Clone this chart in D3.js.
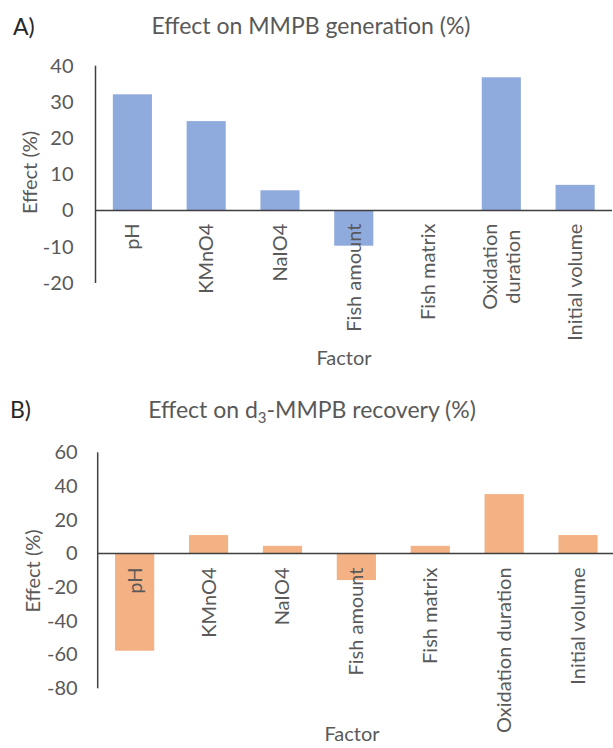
<!DOCTYPE html>
<html><head><meta charset="utf-8">
<script src="https://cdn.jsdelivr.net/npm/d3@7"></script>
<style>html,body{margin:0;padding:0;background:#fff}svg{display:block}</style>
</head><body>
<svg id="c" width="613" height="748"></svg>
<script>
const categories = ["pH","KMnO4","NaIO4","Fish amount","Fish matrix","Oxidation duration","Initial volume"];
const generationValues = [32.1, 24.7, 5.6, -9.7, 0, 36.8, 7.1];
const recoveryValues = [-57.7, 10.9, 4.5, -15.8, 4.5, 35.2, 10.9];
const ticksA = [-20,-10,0,10,20,30,40];
const ticksB = [-80,-60,-40,-20,0,20,40,60];

const FONT = "Lato, 'Open Sans', sans-serif";
const TXT = "#595959";
const svg = d3.select("#c");

function panel(cfg){
  const g = svg.append("g");
  const x = d3.scaleBand().domain(categories).range(cfg.xr).paddingInner(0.47).paddingOuter(0.235);
  const y = d3.scaleLinear().domain(cfg.domain).range(cfg.yr);
  g.append("text").attr("x", cfg.letter[0]).attr("y", cfg.letter[1]).attr("font-family", FONT)
    .attr("font-size", 23).attr("fill", "#262626").text(cfg.letterText);
  const t = g.append("text").attr("x", cfg.title[0]).attr("y", cfg.title[1]).attr("text-anchor","middle")
    .attr("font-family", FONT).attr("font-size", 23).attr("fill", TXT);
  cfg.titleParts.forEach(p => {
    const s = t.append("tspan").text(p.t);
    if (p.sub) s.attr("font-size", 15).attr("dy", 5);
    else if (p.after) s.attr("dy", -5);
  });
  g.selectAll("rect.bar").data(cfg.values).join("rect").attr("class","bar")
    .attr("x", (d,i) => x(categories[i]))
    .attr("width", x.bandwidth())
    .attr("y", d => y(Math.max(0,d)))
    .attr("height", d => Math.abs(y(d) - y(0)))
    .attr("fill", cfg.color);
  const [x0, x1] = cfg.xr;
  g.append("line").attr("x1", x0).attr("x2", x0).attr("y1", y(cfg.domain[1])).attr("y2", y(cfg.domain[0]))
    .attr("stroke", "#3f3f3f").attr("stroke-width", 1.5);
  g.append("line").attr("x1", x0).attr("x2", x1).attr("y1", y(0)).attr("y2", y(0))
    .attr("stroke", "#3f3f3f").attr("stroke-width", 1.5);
  const ax = g.append("g").attr("transform", `translate(${x0 - cfg.tickGap},0)`)
    .call(d3.axisLeft(y).tickValues(cfg.ticks).tickSize(0).tickPadding(0).tickFormat(d => String(d)));
  ax.select(".domain").remove();
  ax.selectAll("text").attr("font-family", FONT).attr("font-size", 20).attr("fill", TXT);
  g.append("text").attr("transform", `translate(${cfg.ytitle[0]},${cfg.ytitle[1]}) rotate(-90)`)
    .attr("text-anchor","middle").attr("dy","0.35em").attr("font-family", FONT).attr("font-size", 20)
    .attr("fill", TXT).text("Effect (%)");
  categories.forEach((c, i) => {
    const cx = x(c) + x.bandwidth()/2;
    const top = y(0) + cfg.labelGap;
    const words = c.split(" ");
    let lines = [c];
    const measure = s => {
      const tt = g.append("text").attr("font-family", FONT).attr("font-size", 20).text(s);
      const w = tt.node().getComputedTextLength(); tt.remove(); return w;
    };
    if (measure(c) > cfg.maxLabel && words.length > 1) lines = words;
    const maxL = d3.max(lines.map(measure));
    const lh = 23;
    lines.forEach((l, k) => {
      const off = (k - (lines.length - 1)/2) * lh;
      g.append("text").attr("transform", `translate(${cx + off},${top + maxL/2}) rotate(-90)`)
        .attr("text-anchor","middle").attr("dy","0.35em").attr("font-family", FONT).attr("font-size", 20)
        .attr("fill", TXT).text(l);
    });
  });
  g.append("text").attr("x", cfg.xtitle[0]).attr("y", cfg.xtitle[1]).attr("text-anchor","middle")
    .attr("font-family", FONT).attr("font-size", 20).attr("fill", TXT).text("Factor");
}

panel({
  values: generationValues, ticks: ticksA, domain: [-20, 40],
  xr: [95.5, 612], yr: [283, 65.7], color: "#8FAADC",
  letter: [13, 35], letterText: "A)",
  title: [311, 34], titleParts: [{t:"Effect on MMPB generation (%)"}],
  ytitle: [30, 172.5], tickGap: 22, labelGap: 13, maxLabel: 130,
  xtitle: [344, 365]
});
panel({
  values: recoveryValues, ticks: ticksB, domain: [-80, 60],
  xr: [97.7, 615], yr: [688.3, 452.3], color: "#F4B183",
  letter: [10, 418], letterText: "B)",
  title: [312, 418], titleParts: [{t:"Effect on d"},{t:"3",sub:true},{t:"-MMPB recovery (%)", after:true}],
  ytitle: [33, 571], tickGap: 20, labelGap: 14, maxLabel: 1000,
  xtitle: [352, 741]
});
</script>
</body></html>
